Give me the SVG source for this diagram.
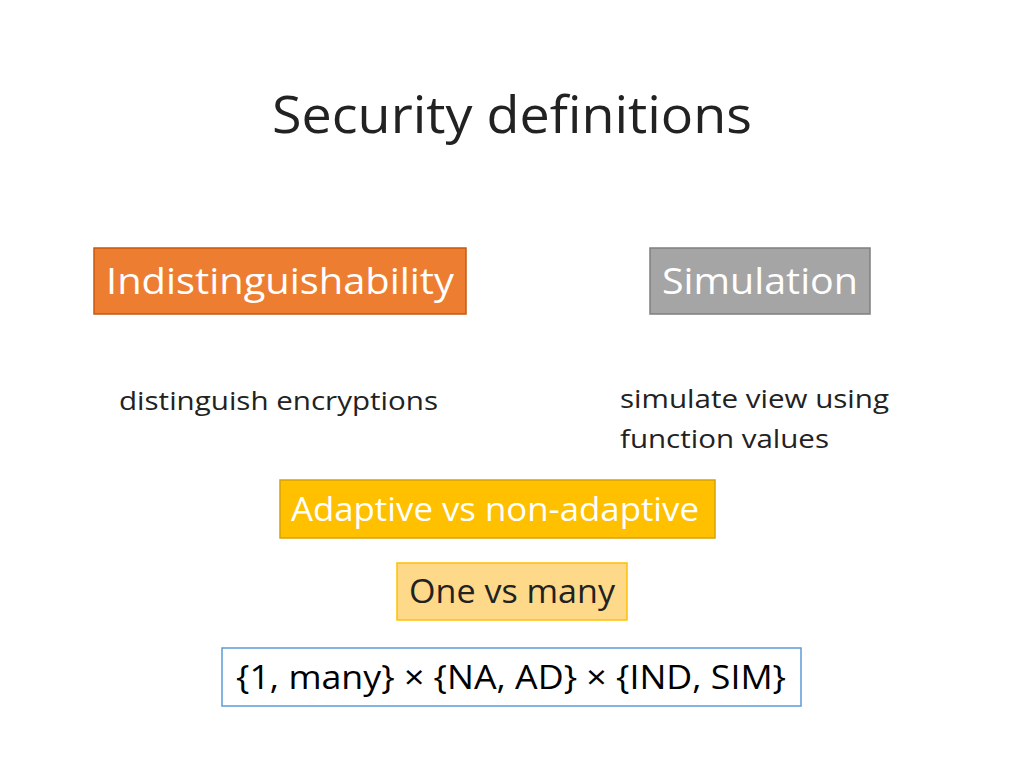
<svg xmlns="http://www.w3.org/2000/svg" width="1024" height="768" viewBox="0 0 1024 768">
<style>
text{font-family:"Open Sans","Liberation Sans",sans-serif}
.w{fill:#fff}
.d{fill:#222}
</style>
<rect width="1024" height="768" fill="#fff"/>
<text x="512" y="133" text-anchor="middle" font-size="52" class="d" textLength="480" lengthAdjust="spacingAndGlyphs">Security definitions</text>
<g id="ind"><rect x="94" y="248" width="372" height="66" fill="#ED7D31" stroke="#C55A11" stroke-width="1.5"/>
<text x="280" y="294" text-anchor="middle" font-size="36" class="w" textLength="348" lengthAdjust="spacingAndGlyphs">Indistinguishability</text></g>
<g id="sim"><rect x="650" y="248" width="220" height="66" fill="#A5A5A5" stroke="#7F7F7F" stroke-width="1.5"/>
<text x="760" y="294" text-anchor="middle" font-size="36" class="w" textLength="196" lengthAdjust="spacingAndGlyphs">Simulation</text></g>
<g id="indDesc"><text x="119" y="410" font-size="26" class="d" textLength="319" lengthAdjust="spacingAndGlyphs">distinguish encryptions</text></g>
<g id="simDesc"><text x="620" y="408" font-size="26" class="d" textLength="269" lengthAdjust="spacingAndGlyphs">simulate view using</text>
<text x="620" y="448" font-size="26" class="d" textLength="209" lengthAdjust="spacingAndGlyphs">function values</text></g>
<g id="adaptive"><rect x="280" y="480" width="435" height="58" fill="#FFC000" stroke="#D9A300" stroke-width="1.5"/>
<text x="495" y="521" text-anchor="middle" font-size="32" class="w" textLength="408" lengthAdjust="spacingAndGlyphs">Adaptive vs non-adaptive</text></g>
<g id="onemany"><rect x="397" y="563" width="230" height="57" fill="#FFD98A" stroke="#FFC000" stroke-width="1.5"/>
<text x="512" y="603" text-anchor="middle" font-size="32" class="d" textLength="206" lengthAdjust="spacingAndGlyphs">One vs many</text></g>
<g id="product"><rect x="222" y="648" width="579" height="58" fill="#fff" stroke="#5B9BD5" stroke-width="1.5"/>
<text x="511" y="689" text-anchor="middle" font-size="32" fill="#000" textLength="550" lengthAdjust="spacingAndGlyphs">{1, many} × {NA, AD} × {IND, SIM}</text></g>
<g id="connectors"/>
</svg>
